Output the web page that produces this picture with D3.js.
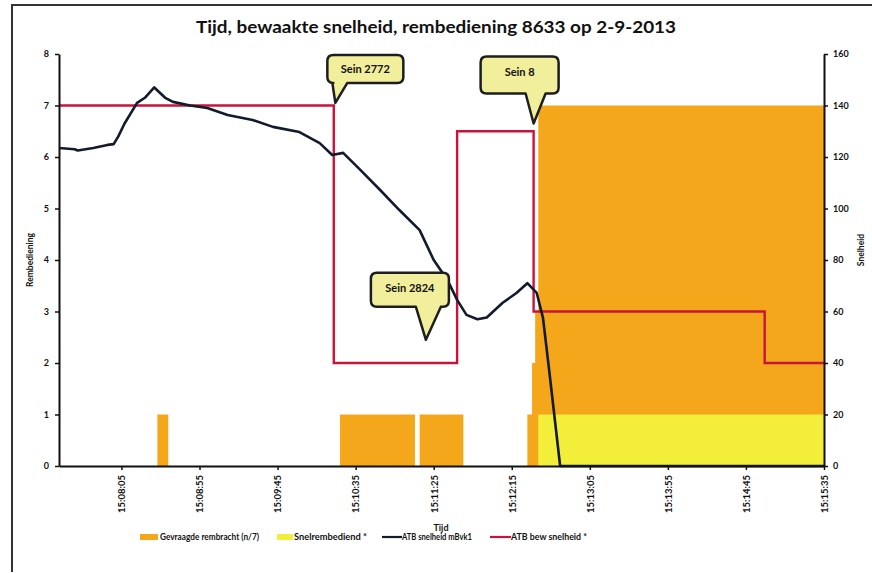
<!DOCTYPE html>
<html><head><meta charset="utf-8">
<script src="https://cdn.jsdelivr.net/npm/d3@7"></script>
<style>
body{margin:0;background:#fff;}
text{font-family:Lato,"Open Sans",sans-serif;font-weight:700;fill:#111;}
</style></head>
<body><svg id="c" width="872" height="573"></svg>
<script>
// ---- data ----
const title = "Tijd, bewaakte snelheid, rembediening 8633 op 2-9-2013";
const xStart = "15:07:25", xEnd = "15:15:35";
const xTickLabels = ["15:08:05","15:08:55","15:09:45","15:10:35","15:11:25","15:12:15","15:13:05","15:13:55","15:14:45","15:15:35"];
const leftTicks = [0,1,2,3,4,5,6,7,8];
const rightTicks = [0,20,40,60,80,100,120,140,160];

// Gevraagde rembracht (n/7), step
const brakeTimes  = ["15:07:25","15:08:28","15:08:35","15:10:25","15:11:13","15:11:16","15:11:44","15:12:25","15:12:28","15:12:30","15:12:32","15:15:35"];
const brakeValues = [0,1,0,1,0,1,0,1,2,3,7,7];
// Snelrembediend, step
const emTimes  = ["15:07:25","15:12:32","15:15:35"];
const emValues = [0,1,1];
// ATB snelheid mBvk1 (km/h)
const speedTimes  = ["15:07:25","15:07:35","15:07:37","15:07:47","15:07:56","15:08:00","15:08:03","15:08:07","15:08:15","15:08:20","15:08:26","15:08:33","15:08:38","15:08:49","15:09:00","15:09:13","15:09:29","15:09:42","15:09:59","15:10:12","15:10:20","15:10:27","15:10:38","15:10:51","15:11:03","15:11:16","15:11:25","15:11:34","15:11:40","15:11:46","15:11:53","15:11:59","15:12:09","15:12:18","15:12:25","15:12:31","15:12:35","15:12:39","15:12:46","15:15:35"];
const speedValues = [123.5,123,122.5,123.5,124.7,125,128,133,141,143,147,143,141.4,140,139,136.3,134.4,131.7,129.7,125.4,120.8,121.6,115,107,99.4,91.6,80,72,64.5,58.7,57,57.7,63.3,67.2,71,67.2,57.5,37,0,0];
// ATB bew snelheid (km/h), step
const supTimes  = ["15:07:25","15:10:21","15:11:40","15:12:29","15:14:57","15:15:35"];
const supValues = [140,40,130,60,40,40];
// annotations
const notes = [
  {label:"Sein 2772", time:"15:10:22", value:141, dx:-8, dy:-48, w:76, h:28, tail:[5,20]},
  {label:"Sein 8",    time:"15:12:29", value:133, dx:-53, dy:-67, w:78, h:37, tail:[45,65]},
  {label:"Sein 2824", time:"15:11:20", value:49,  dx:-55, dy:-67, w:78, h:34, tail:[45,70]}
];
const legendLabels = ["Gevraagde rembracht (n/7)","Snelrembediend *","ATB snelheid mBvk1","ATB bew  snelheid *"];

// ---- chart ----
const svg = d3.select("#c");
const parse = d3.timeParse("%H:%M:%S");
const L=59, R=824, T=54, B=466;
const x = d3.scaleTime().domain([parse(xStart),parse(xEnd)]).range([L,R]);
const yL = d3.scaleLinear().domain([0,8]).range([B,T]);
const yR = d3.scaleLinear().domain([0,160]).range([B,T]);
const orange="#f5a71b", yellow="#f3ee3a", red="#c8143c", dark="#121a2e";

// frame
svg.append("path").attr("d","M12,572 L12,5 L872,5").attr("fill","none").attr("stroke","#333").attr("stroke-width",2);

svg.append("text").attr("x",436).attr("y",33).attr("text-anchor","middle")
  .attr("font-size",17).attr("textLength",480).attr("lengthAdjust","spacingAndGlyphs").text(title);

const stepArea = (yS)=>d3.area().curve(d3.curveStepAfter).x(d=>x(d.t)).y0(yS(0)).y1(d=>yS(d.v));
const zip=(ts,vs)=>ts.map((t,i)=>({t:parse(t),v:vs[i]}));

svg.append("path").datum(zip(brakeTimes,brakeValues)).attr("d",stepArea(yL)).attr("fill",orange);
svg.append("path").datum(zip(emTimes,emValues)).attr("d",stepArea(yL)).attr("fill",yellow);

svg.append("path").datum(zip(supTimes,supValues))
  .attr("d",d3.line().curve(d3.curveStepAfter).x(d=>x(d.t)).y(d=>yR(d.v)))
  .attr("fill","none").attr("stroke",red).attr("stroke-width",2.4);

svg.append("path").datum(zip(speedTimes,speedValues))
  .attr("d",d3.line().x(d=>x(d.t)).y(d=>yR(d.v)))
  .attr("fill","none").attr("stroke",dark).attr("stroke-width",2.6).attr("stroke-linejoin","round");

// axes
const fmt = d3.timeFormat("%H:%M:%S");
const xAxis = svg.append("g").attr("transform",`translate(0,${B})`)
  .call(d3.axisBottom(x).tickValues(xTickLabels.map(parse)).tickFormat(fmt).tickSize(4).tickSizeOuter(0));
xAxis.selectAll("text").attr("transform","rotate(-90)").attr("text-anchor","end")
  .attr("x",-9).attr("y",0).attr("dy","0.35em").attr("font-size",9.5);
const yAxisL = svg.append("g").attr("transform",`translate(${L},0)`)
  .call(d3.axisLeft(yL).tickValues(leftTicks).tickSize(4).tickSizeOuter(0));
yAxisL.selectAll("text").attr("font-size",9).attr("x",-10);
const yAxisR = svg.append("g").attr("transform",`translate(${R},0)`)
  .call(d3.axisRight(yR).tickValues(rightTicks).tickSize(4).tickSizeOuter(0));
yAxisR.selectAll("text").attr("font-size",9).attr("x",9);
[xAxis,yAxisL,yAxisR].forEach(g=>{g.selectAll(".domain").attr("stroke","#111").attr("stroke-width",2);
  g.selectAll(".tick line").attr("stroke","#111").attr("stroke-width",1.5);
  g.selectAll("text").attr("font-family","Lato,sans-serif").attr("font-weight",700).attr("fill","#111");});

svg.append("text").attr("transform","translate(33,260) rotate(-90)").attr("text-anchor","middle").attr("font-size",8.5).text("Rembediening");
svg.append("text").attr("transform","translate(864,250) rotate(-90)").attr("text-anchor","middle").attr("font-size",8.5).text("Snelheid");
svg.append("text").attr("x",441).attr("y",531).attr("text-anchor","middle").attr("font-size",9).text("Tijd");

// callouts
notes.forEach(n=>{
  const tx=x(parse(n.time)), ty=yR(n.value);
  const bx=tx+n.dx, by=ty+n.dy, w=n.w, h=n.h, r=6;
  const a=bx+n.tail[0], b=bx+n.tail[1];
  const d=`M${bx+r},${by} L${bx+w-r},${by} Q${bx+w},${by} ${bx+w},${by+r} L${bx+w},${by+h-r} Q${bx+w},${by+h} ${bx+w-r},${by+h}
    L${b},${by+h} L${tx},${ty} L${a},${by+h} L${bx+r},${by+h} Q${bx},${by+h} ${bx},${by+h-r} L${bx},${by+r} Q${bx},${by} ${bx+r},${by} Z`;
  svg.append("path").attr("d",d).attr("fill","#f1ee9c").attr("stroke","#1e1e1e").attr("stroke-width",2.5).attr("stroke-linejoin","round");
  svg.append("text").attr("x",bx+w/2).attr("y",by+Math.min(h,30)/2+4).attr("text-anchor","middle").attr("font-size",11).text(n.label);
});

// legend
const lg=[{x:140,w:18,type:"rect",c:orange,tx:160,tl:99},{x:277,w:16,type:"rect",c:yellow,tx:294,tl:73},
          {x:382,w:20,type:"line",c:dark,tx:402,tl:70},{x:490,w:21,type:"line",c:red,tx:511,tl:76}];
lg.forEach((d,i)=>{
  if(d.type==="rect") svg.append("rect").attr("x",d.x).attr("y",534).attr("width",d.w).attr("height",6).attr("fill",d.c);
  else svg.append("line").attr("x1",d.x).attr("x2",d.x+d.w).attr("y1",537).attr("y2",537).attr("stroke",d.c).attr("stroke-width",2.2);
  svg.append("text").attr("x",d.tx).attr("y",540).attr("font-size",8.5).attr("textLength",d.tl).attr("lengthAdjust","spacingAndGlyphs").text(legendLabels[i]);
});
</script></body></html>
